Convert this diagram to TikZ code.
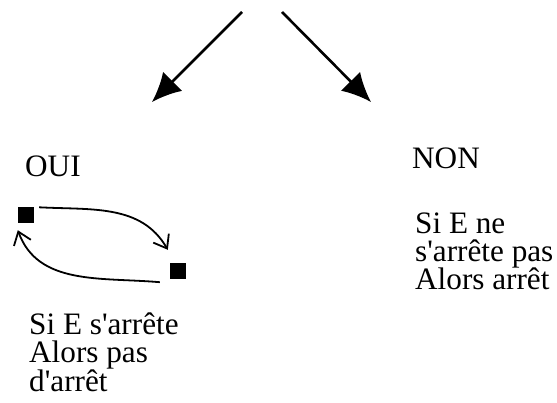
\documentclass[tikz,border=0pt]{standalone}
\usepackage{fontspec}
\setmainfont{Liberation Serif}[Ligatures=TeXOff]
\usetikzlibrary{arrows.meta, positioning}
\tikzstyle{txt} = [anchor=base west, inner sep=0pt, align=left, scale=1.04, transform shape, font=\fontsize{30}{27.4}\selectfont]
\tikzstyle{sq} = [rectangle, fill=black, minimum size=16pt, inner sep=0pt]
\tikzstyle{bigarrow} = [line width=2.6pt, -{Latex[length=29pt,width=27pt]}]
\tikzstyle{looparrow} = [line width=1.8pt, -{Straight Barb[length=12pt,width=18pt]}]

\begin{document}
\begin{tikzpicture}[x=1pt, y=1pt]
\useasboundingbox (0,0) rectangle (557,402);

\coordinate (lstart) at (242,390);
\coordinate (ltip) at (152,300);
\coordinate (rstart) at (282,390);
\coordinate (rtip) at (371,300);

\node (oui) [txt] at (25,225) {OUI};
\node (non) [txt] at (412,233) {NON};
% base anchor = last line
\node (nontext) [txt] at (415,112) {Si E ne\\s'arrête pas\\Alors arrêt};
\node (ouitext) [txt] at (29,11) {Si E s'arrête\\Alors pas\\d'arrêt};

\node (sqa) [sq] at (26,186.5) {};
\node (sqb) [sq] at (178,131) {};

\draw [bigarrow] (lstart) -- (ltip);
\draw [bigarrow] (rstart) -- (rtip);
\draw [looparrow] ([xshift=5pt]sqa.north east) to[out=-3, in=120] ([xshift=-2pt, yshift=13pt]sqb.north west);
\draw [looparrow] ([xshift=-10pt, yshift=-3pt]sqb.south west) to[out=175, in=-70] ([yshift=-6.5pt]sqa.south west);

\end{tikzpicture}
\end{document}
